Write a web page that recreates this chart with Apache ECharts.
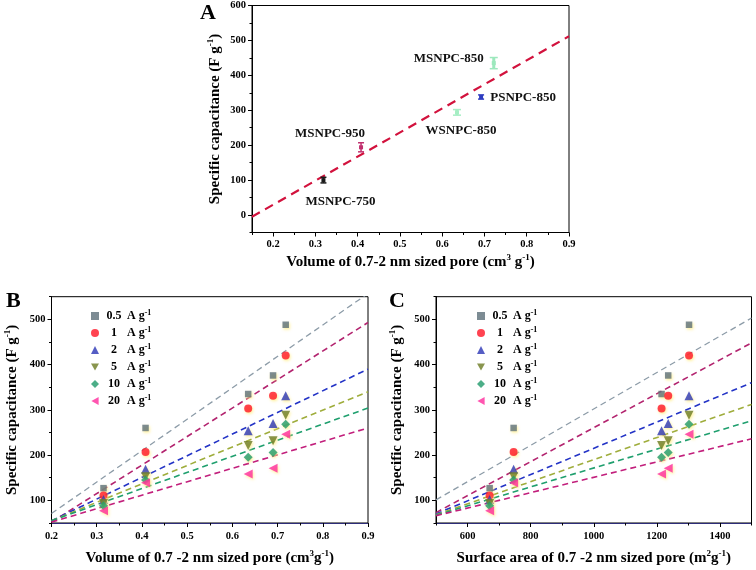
<!DOCTYPE html>
<html>
<head>
<meta charset="utf-8">
<script src="https://cdn.jsdelivr.net/npm/echarts@6/dist/echarts.min.js"></script>
<style>
html,body{margin:0;padding:0;background:#fff;}
#c{width:756px;height:570px;}
</style>
</head>
<body>
<div id="c"></div>
<script>
// ---------- Panel A data ----------
const samplesA = ['MSNPC-750', 'MSNPC-950', 'WSNPC-850', 'PSNPC-850', 'MSNPC-850'];
const poreVolA = [0.319, 0.408, 0.635, 0.692, 0.722];
const capA = [100, 194, 294, 338, 435];
const errA = [8, 13, 8, 6, 16];
const fitA = [[0.15, -5], [0.9, 512]];
const xTicksA = [0.2, 0.3, 0.4, 0.5, 0.6, 0.7, 0.8, 0.9];
const xMinorA = [0.15, 0.25, 0.35, 0.45, 0.55, 0.65, 0.75, 0.85];
const yTicksA = [0, 100, 200, 300, 400, 500, 600];
const yMinorA = [-50, 50, 150, 250, 350, 450, 550];

// ---------- Panels B and C data ----------
const rates = ['0.5', '1', '2', '5', '10', '20'];
const poreVolB = [0.315, 0.408, 0.635, 0.69, 0.718];
const surfAreaC = [670, 746, 1215, 1236, 1302];
const cap05 = [127, 260, 335, 376, 488];
const cap1 = [111, 207, 303, 331, 420];
const cap2 = [102, 169, 254, 270, 331];
const cap5 = [93, 152, 221, 232, 288];
const cap10 = [88, 145, 195, 206, 268];
const cap20 = [77, 139, 158, 171, 246];
// fitted dashed lines: endpoints
const fitB05 = [[0.2, 71], [0.9, 557]];
const fitB1 = [[0.2, 52], [0.9, 493]];
const fitB2 = [[0.2, 55], [0.9, 390]];
const fitB5 = [[0.2, 55], [0.9, 340]];
const fitB10 = [[0.2, 55], [0.9, 304]];
const fitB20 = [[0.2, 52], [0.9, 260]];
const fitC05 = [[500, 101], [1500, 503]];
const fitC1 = [[500, 73], [1500, 448]];
const fitC2 = [[500, 70], [1500, 360]];
const fitC5 = [[500, 68], [1500, 312]];
const fitC10 = [[500, 67], [1500, 276]];
const fitC20 = [[500, 66], [1500, 236]];
const xTicksB = [0.2, 0.3, 0.4, 0.5, 0.6, 0.7, 0.8, 0.9];
const xMinorB = [0.25, 0.35, 0.45, 0.55, 0.65, 0.75, 0.85];
const xTicksC = [600, 800, 1000, 1200, 1400];
const xMinorC = [500, 700, 900, 1100, 1300, 1500];
const yTicksBC = [100, 200, 300, 400, 500];
const yMinorBC = [50, 150, 250, 350, 450, 550];

const capsBC = [cap05, cap1, cap2, cap5, cap10, cap20];
const fitsB = [fitB05, fitB1, fitB2, fitB5, fitB10, fitB20];
const fitsC = [fitC05, fitC1, fitC2, fitC5, fitC10, fitC20];

// ---------- styles ----------
const FONT = '"Liberation Serif", "Times New Roman", serif';
const markerStyle = [
  {symbol: 'rect', size: 6.5, rotate: 0, color: '#5d6f79', icon: 'rect'},
  {symbol: 'circle', size: 8, rotate: 0, color: '#ff1426', icon: 'circle'},
  {symbol: 'triangle', size: 9, rotate: 0, color: '#2a35b5', icon: 'triangle'},
  {symbol: 'triangle', size: 9, rotate: 180, color: '#6b7b22', icon: 'path://M0,0L10,0L5,9Z'},
  {symbol: 'diamond', size: 9, rotate: 0, color: '#1f9a6a', icon: 'diamond'},
  {symbol: 'triangle', size: 9, rotate: 90, color: '#ff2b9c', icon: 'path://M9,0L9,10L0,5Z'}
];
const fitColors = ['#8d9ca8', '#b3246f', '#2434c6', '#9fad3c', '#1f9f6e', '#c21f7c'];
const colorsA = ['#1a1a1a', '#c0306e', '#a6eec4', '#2e3cc0', '#9de8bd'];
const labelOffsetA = {
  'MSNPC-750': [17, 22], 'MSNPC-950': [-31, -14], 'WSNPC-850': [4, 18],
  'PSNPC-850': [42, 1], 'MSNPC-850': [-45, -4]
};

const tickLabel = {color: '#000', fontFamily: FONT, fontWeight: 'bold', fontSize: 10.5,
  formatter: v => String(v)};
const nameStyle = {
  color: '#000', fontFamily: FONT, fontWeight: 'bold', fontSize: 15,
  rich: {
    t: {fontFamily: FONT, fontWeight: 'bold', fontSize: 15, lineHeight: 18, color: '#000'},
    s: {fontFamily: FONT, fontWeight: 'bold', fontSize: 9, lineHeight: 18, verticalAlign: 'top', color: '#000'}
  }
};

function axisPair(dim, gridIndex, min, max, major, minor, name, nameGap, labelMargin) {
  const main = {
    type: 'value', gridIndex, min, max,
    position: dim === 'x' ? 'bottom' : 'left',
    axisLine: {show: true, onZero: false, lineStyle: {color: '#000', width: 1}},
    axisTick: {show: true, customValues: major, length: 4, lineStyle: {color: '#000'}},
    axisLabel: Object.assign({customValues: major, margin: labelMargin}, tickLabel),
    splitLine: {show: false},
    name, nameLocation: 'middle', nameGap, nameTextStyle: nameStyle
  };
  const mino = {
    type: 'value', gridIndex, min, max,
    position: dim === 'x' ? 'bottom' : 'left',
    axisLine: {show: false, onZero: false},
    axisTick: {show: true, customValues: minor, length: 2.5, lineStyle: {color: '#000'}},
    axisLabel: {show: false},
    splitLine: {show: false}
  };
  return [main, mino];
}

const yName = '{t|Specific capacitance (F g}{s|-1}{t|)}';
const xAxes = [
  ...axisPair('x', 0, 0.15, 0.9, xTicksA, xMinorA, '{t|Volume of 0.7-2 nm sized pore (cm}{s|3}{t| g}{s|-1}{t|)}', 21, 6),
  ...axisPair('x', 1, 0.2, 0.9, xTicksB, xMinorB, '{t|Volume of 0.7 -2 nm sized pore (cm}{s|3}{t|g}{s|-1}{t|)}', 26, 8),
  ...axisPair('x', 2, 500, 1500, xTicksC, xMinorC, '{t|Surface area of 0.7 -2 nm sized pore (m}{s|2}{t|g}{s|-1}{t|)}', 26, 8)
];
xAxes[2].axisLine.lineStyle.color = '#2c2c78';
xAxes[4].axisLine.lineStyle.color = '#2c2c78';
const yAxes = [
  ...axisPair('y', 0, -50, 600, yTicksA, yMinorA, yName, 28, 6),
  ...axisPair('y', 1, 50, 550, yTicksBC, yMinorBC, yName, 30, 6),
  ...axisPair('y', 2, 50, 550, yTicksBC, yMinorBC, yName, 30, 6)
];

const series = [];
// Panel A fit line
series.push({
  type: 'line', name: 'fitA', xAxisIndex: 0, yAxisIndex: 0, data: fitA,
  symbol: 'none', silent: true, z: 2,
  lineStyle: {color: '#d2123d', width: 2.2, type: [9, 6]}
});
// Panel A error bars and labels
series.push({
  type: 'custom', name: 'samplesA', xAxisIndex: 0, yAxisIndex: 0, z: 3,
  data: samplesA.map((n, i) => [poreVolA[i], capA[i], errA[i], i]),
  renderItem(params, api) {
    const x = api.value(0), y = api.value(1), e = api.value(2), idx = api.value(3);
    const p = api.coord([x, y]);
    const lo = api.coord([x, y - e]);
    const hi = api.coord([x, y + e]);
    const col = colorsA[idx];
    const thick = (idx === 2 || idx === 4) ? 3 : 1.5;
    const capW = (idx === 2 || idx === 4) ? 4 : 3;
    const off = labelOffsetA[samplesA[idx]];
    return {
      type: 'group',
      children: [
        {type: 'line', shape: {x1: p[0], y1: lo[1], x2: p[0], y2: hi[1]}, style: {stroke: col, lineWidth: thick}},
        {type: 'line', shape: {x1: p[0] - capW, y1: lo[1], x2: p[0] + capW, y2: lo[1]}, style: {stroke: col, lineWidth: 1.5}},
        {type: 'line', shape: {x1: p[0] - capW, y1: hi[1], x2: p[0] + capW, y2: hi[1]}, style: {stroke: col, lineWidth: 1.5}},
        {type: 'rect', shape: {x: p[0] - 2, y: p[1] - 2, width: 4, height: 4}, style: {fill: col}},
        {type: 'text', x: p[0] + off[0], y: p[1] + off[1],
          style: {text: samplesA[idx], fill: '#111', align: 'center', verticalAlign: 'middle',
            fontFamily: FONT, fontWeight: 'bold', fontSize: 13}}
      ]
    };
  }
});

function rateName(r) { return r + ' A g-1'; }

rates.forEach((r, k) => {
  const ms = markerStyle[k];
  const common = {
    type: 'scatter', name: rateName(r), symbol: ms.symbol, symbolSize: ms.size,
    symbolRotate: ms.rotate, z: 4,
    itemStyle: {color: ms.color, shadowColor: 'rgba(255,236,120,0.9)', shadowBlur: 3, shadowOffsetX: 1, shadowOffsetY: 1.5}
  };
  series.push(Object.assign({}, common, {
    xAxisIndex: 2, yAxisIndex: 2,
    data: poreVolB.map((x, i) => [x, capsBC[k][i]])
  }));
  series.push(Object.assign({}, common, {
    xAxisIndex: 4, yAxisIndex: 4,
    data: surfAreaC.map((x, i) => [x, capsBC[k][i]])
  }));
  series.push({
    type: 'line', name: 'fitB' + r, xAxisIndex: 2, yAxisIndex: 2, data: fitsB[k],
    symbol: 'none', silent: true, z: 2, clip: true,
    lineStyle: {color: fitColors[k], width: k === 0 ? 1.3 : 1.6, type: [6, 4]}
  });
  series.push({
    type: 'line', name: 'fitC' + r, xAxisIndex: 4, yAxisIndex: 4, data: fitsC[k],
    symbol: 'none', silent: true, z: 2, clip: true,
    lineStyle: {color: fitColors[k], width: k === 0 ? 1.3 : 1.6, type: [6, 4]}
  });
});

const legendText = {
  fontFamily: FONT, fontWeight: 'bold', fontSize: 12, color: '#000',
  rich: {
    n: {fontFamily: FONT, fontWeight: 'bold', fontSize: 12, width: 20, align: 'center', lineHeight: 14, color: '#000'},
    t: {fontFamily: FONT, fontWeight: 'bold', fontSize: 12, lineHeight: 14, color: '#000'},
    s: {fontFamily: FONT, fontWeight: 'bold', fontSize: 8, lineHeight: 14, verticalAlign: 'top', color: '#000'}
  }
};
function legendFormatter(name) {
  const r = name.split(' ')[0];
  return '{n|' + r + '}{t| A g}{s|-1}';
}
function makeLegend(left) {
  return {
    orient: 'vertical', left, top: 304, itemGap: 4, itemWidth: 8, itemHeight: 8,
    itemTextGap: 10, selectedMode: false,
    data: rates.map((r, k) => ({name: rateName(r), icon: markerStyle[k].icon})),
    formatter: legendFormatter, textStyle: legendText
  };
}

const option = {
  backgroundColor: '#fff',
  animation: false,
  grid: [
    {left: 252, top: 5.5, width: 317, height: 227, show: true, borderColor: '#000', borderWidth: 1, backgroundColor: 'transparent'},
    {left: 51.5, top: 296.7, width: 316.5, height: 226.3, show: true, borderColor: '#000', borderWidth: 1, backgroundColor: 'transparent'},
    {left: 436, top: 296.7, width: 315.5, height: 226.3, show: true, borderColor: '#000', borderWidth: 1, backgroundColor: 'transparent'}
  ],
  xAxis: xAxes,
  yAxis: yAxes,
  legend: [makeLegend(86), makeLegend(472)],
  graphic: [
    {type: 'text', left: 200, top: 2, style: {text: 'A', fontFamily: FONT, fontWeight: 'bold', fontSize: 22, fill: '#000'}},
    {type: 'text', left: 6, top: 290, style: {text: 'B', fontFamily: FONT, fontWeight: 'bold', fontSize: 22, fill: '#000'}},
    {type: 'text', left: 389, top: 290, style: {text: 'C', fontFamily: FONT, fontWeight: 'bold', fontSize: 22, fill: '#000'}}
  ],
  series
};

const chart = echarts.init(document.getElementById('c'), null, {renderer: 'canvas'});
chart.setOption(option);
</script>
</body>
</html>
